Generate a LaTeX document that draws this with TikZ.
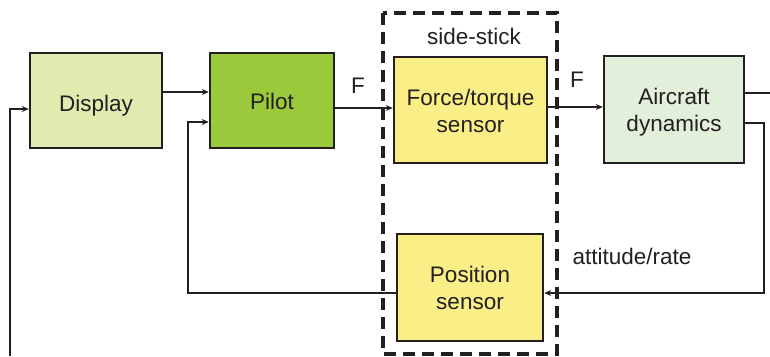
\documentclass[tikz,border=0pt]{standalone}
\usepackage{fontspec}
\setmainfont{Liberation Sans}
\usetikzlibrary{arrows.meta}
\definecolor{ink}{HTML}{231F20}
\definecolor{dispfill}{HTML}{E0EBAF}
\definecolor{pilotfill}{HTML}{9ACA3C}
\definecolor{sensfill}{HTML}{F9EF86}
\definecolor{acfill}{HTML}{E2EFDA}
\tikzset{
  blk/.style={draw=ink, line width=2.5pt, inner sep=0pt},
  txt/.style={align=center, inner sep=0pt, text=ink, font=\fontsize{22.5}{27}\selectfont},
  conn/.style={draw=ink, line width=2pt},
  arr/.style={conn, -{Stealth[length=7pt,width=6pt]}},
  lbl/.style={text=ink, font=\fontsize{22.5}{27}\selectfont, inner sep=0pt, anchor=base},
}
\begin{document}
\begin{tikzpicture}[x=1pt,y=-1pt]
\useasboundingbox (0,0) rectangle (770,356);
% dashed side-stick box
\draw[ink, line width=3.3pt, dash pattern=on 12pt off 7pt] (383,13) rectangle (557,354);
\node[blk, fill=dispfill, minimum width=132pt, minimum height=95pt] (display) at (96,100.5) {};
\node[blk, fill=pilotfill, minimum width=124pt, minimum height=95pt] (pilot) at (272,100.5) {};
\node[blk, fill=sensfill, minimum width=153pt, minimum height=106pt] (force) at (470.5,110) {};
\node[blk, fill=acfill, minimum width=140pt, minimum height=107pt] (aircraft) at (674,109.5) {};
\node[blk, fill=sensfill, minimum width=146pt, minimum height=107pt] (position) at (470,287.5) {};
\node[txt, anchor=base] (displayt) at (96,111) {Display};
\node[txt, anchor=base] (pilott) at (272,109) {Pilot};
\node[txt] (forcet) at ([yshift=-1pt]force.center) {Force/torque\\sensor};
\node[txt] (aircraftt) at ([yshift=-3pt]aircraft.center) {Aircraft\\dynamics};
\node[txt] (positiont) at (position.center) {Position\\sensor};
% labels
\node[lbl] (f1) at (358,93) {F};
\node[lbl] (f2) at (577,87) {F};
\node[lbl] (side) at (474,44) {side-stick};
\node[lbl] (att) at (632,264) {attitude/rate};
% connectors
\coordinate (inbot) at (10,356);
\coordinate (outr) at (770,93);
\draw[arr] (inbot) |- ([yshift=-8.5pt]display.west);
\draw[arr] ([yshift=8.5pt]display.east) -- ([yshift=8.5pt]display.east -| pilot.west);
\draw[arr] ([yshift=-7.5pt]pilot.east) -- ([yshift=-7.5pt]pilot.east -| force.west);
\draw[arr] ([yshift=3pt]force.east) -- ([yshift=3pt]force.east -| aircraft.west);
\draw[conn] ([yshift=16.5pt]aircraft.east) -- (outr);
\draw[arr] ([yshift=-13.5pt]aircraft.east) -- ++(19,0) |- ([yshift=-5.5pt]position.east);
\draw[arr] ([yshift=-5.5pt]position.west) -- ++(-208,0) |- ([yshift=-21.5pt]pilot.west);
\end{tikzpicture}
\end{document}
